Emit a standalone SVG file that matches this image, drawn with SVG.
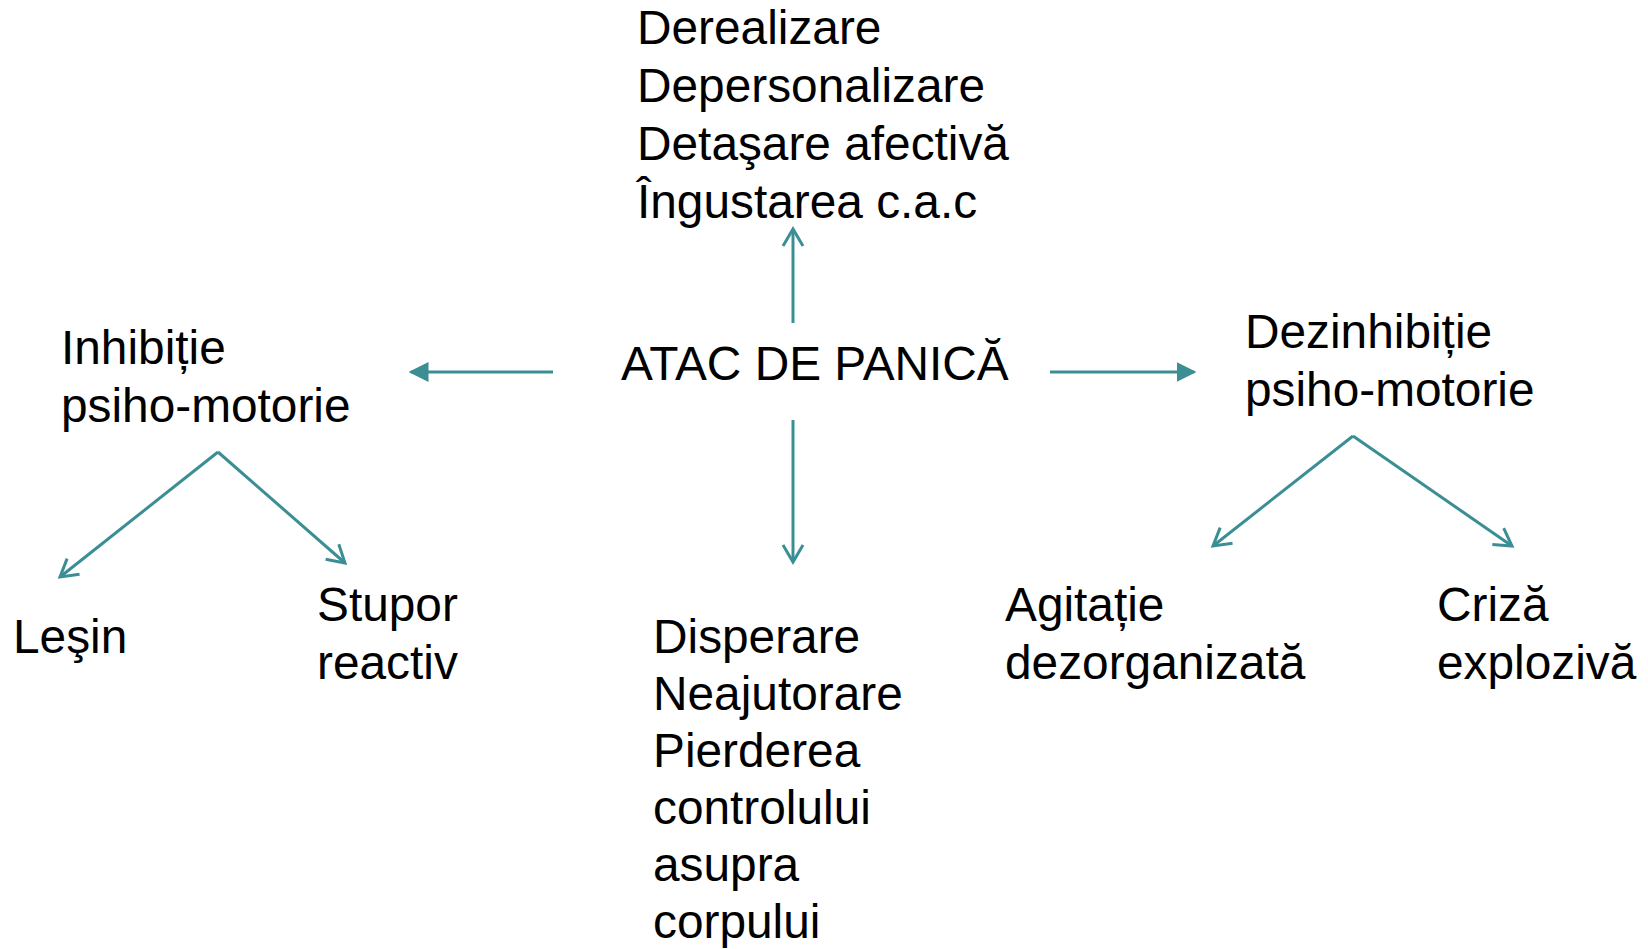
<svg xmlns="http://www.w3.org/2000/svg" width="1648" height="949" viewBox="0 0 1648 949">
<style>
text{font-family:"Liberation Sans",Arial,sans-serif;font-size:47.8px;fill:#000}
.c{stroke:#3B8E94;stroke-width:3;fill:none}
</style>
<defs>
<marker id="tri" markerUnits="userSpaceOnUse" markerWidth="20" markerHeight="20" viewBox="0 0 16 16" refX="14" refY="8" orient="auto"><path d="M0,0 L16,8 L0,16 z" fill="#3B8E94"/></marker>
<marker id="vee" markerUnits="userSpaceOnUse" markerWidth="24" markerHeight="24" viewBox="0 0 24 24" refX="20" refY="12" orient="auto"><path d="M3,2 L20,12 L3,22" fill="none" stroke="#3B8E94" stroke-width="3"/></marker>
</defs>
<rect width="1648" height="949" fill="#fff"/>
<g id="connectors">
<line class="c" x1="553" y1="372" x2="411" y2="372" marker-end="url(#tri)"/>
<line class="c" x1="1050" y1="372" x2="1194" y2="372" marker-end="url(#tri)"/>
<line class="c" x1="793" y1="323" x2="793" y2="229" marker-end="url(#vee)"/>
<line class="c" x1="793" y1="420" x2="793" y2="562" marker-end="url(#vee)"/>
<line class="c" x1="218" y1="452" x2="60" y2="577" marker-end="url(#vee)"/>
<line class="c" x1="218" y1="452" x2="345" y2="563" marker-end="url(#vee)"/>
<line class="c" x1="1353" y1="436" x2="1213" y2="546" marker-end="url(#vee)"/>
<line class="c" x1="1353" y1="436" x2="1512" y2="546" marker-end="url(#vee)"/>
</g>
<g id="node-center"><text x="621" y="380">ATAC DE PANICĂ</text></g>
<g id="node-top"><text x="637" y="44">Derealizare</text><text x="637" y="102">Depersonalizare</text><text x="637" y="160">Detaşare afectivă</text><text x="637" y="218">Îngustarea c.a.c</text></g>
<g id="node-inhib"><text x="61" y="364">Inhibiție</text><text x="61" y="422">psiho-motorie</text></g>
<g id="node-dezinhib"><text x="1245" y="348">Dezinhibiție</text><text x="1245" y="406">psiho-motorie</text></g>
<g id="node-lesin"><text x="13" y="653">Leşin</text></g>
<g id="node-stupor"><text x="317" y="621">Stupor</text><text x="317" y="679">reactiv</text></g>
<g id="node-agitatie"><text x="1005" y="621">Agitație</text><text x="1005" y="679">dezorganizată</text></g>
<g id="node-criza"><text x="1437" y="621">Criză</text><text x="1437" y="679">explozivă</text></g>
<g id="node-bottom"><text x="653" y="653">Disperare</text><text x="653" y="710">Neajutorare</text><text x="653" y="767">Pierderea</text><text x="653" y="824">controlului</text><text x="653" y="881">asupra</text><text x="653" y="938">corpului</text></g>
</svg>
